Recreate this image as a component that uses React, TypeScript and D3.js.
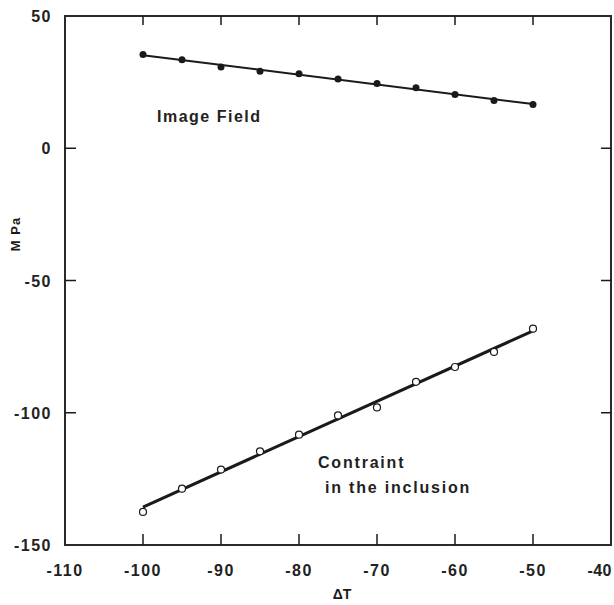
import React from "react";
import * as d3 from "d3";

const deltaT = [-100, -95, -90, -85, -80, -75, -70, -65, -60, -55, -50];
const imageField = [35.4, 33.5, 30.7, 29.1, 28.2, 26.2, 24.5, 22.9, 20.3, 18.1, 16.5];
const constraint = [-137.5, -128.7, -121.5, -114.6, -108.3, -101.0, -98.0, -88.3, -82.7, -77.0, -68.2];
const xTicks = [-110, -100, -90, -80, -70, -60, -50, -40];
const yTicks = [50, 0, -50, -100, -150];

const W = 614;
const H = 605;
const L = 65, R = 611, T = 16, B = 545;

function fit(xs: number[], ys: number[]) {
  const mx = d3.mean(xs)!;
  const my = d3.mean(ys)!;
  let num = 0, den = 0;
  xs.forEach((x, i) => { num += (x - mx) * (ys[i] - my); den += (x - mx) ** 2; });
  const b = num / den;
  return (x: number) => my + b * (x - mx);
}

export default function App() {
  const x = d3.scaleLinear().domain([-110, -40]).range([L, R]);
  const y = d3.scaleLinear().domain([-150, 50]).range([B, T]);
  const f1 = fit(deltaT, imageField);
  const f2 = fit(deltaT, constraint);
  const x0 = d3.min(deltaT)!, x1 = d3.max(deltaT)!;
  const line = d3.line<[number, number]>().x(d => x(d[0])).y(d => y(d[1]));
  const font = "'Liberation Sans', Arial, sans-serif";
  const ink = "#1a1a1a";
  const labelColor = "#222";

  return (
    <svg width={W} height={H} style={{ position: "absolute", left: 0, top: 0, background: "#fff" }}>
      <rect x={0} y={0} width={W} height={H} fill="#fff" />
      {/* frame */}
      <rect x={L} y={T} width={R - L} height={B - T} fill="none" stroke="#2a2a2a" strokeWidth={2} />
      {/* x ticks bottom & top */}
      {xTicks.slice(1, -1).map(t => (
        <g key={"xt" + t}>
          <line x1={x(t)} x2={x(t)} y1={B} y2={B - 11} stroke={ink} strokeWidth={1.5} />
          <line x1={x(t)} x2={x(t)} y1={T} y2={T + 9} stroke={ink} strokeWidth={1.5} />
        </g>
      ))}
      {yTicks.slice(1, -1).map(t => (
        <g key={"yt" + t}>
          <line x1={L} x2={L + 11} y1={y(t)} y2={y(t)} stroke={ink} strokeWidth={1.5} />
          <line x1={R} x2={R - 10} y1={y(t)} y2={y(t)} stroke={ink} strokeWidth={1.5} />
        </g>
      ))}
      {/* tick labels */}
      {xTicks.map((t, i) => {
        const last = i === xTicks.length - 1;
        return (
          <text key={"xl" + t} x={last ? W - 2 : x(t)} y={576} textAnchor={last ? "end" : "middle"}
            fontFamily={font} fontWeight="bold" fontSize={16} letterSpacing={last ? 0.5 : 1.5}
            fill={labelColor}>{t}</text>
        );
      })}
      {yTicks.map(t => (
        <text key={"yl" + t} x={52} y={y(t) + 6} textAnchor="end" fontFamily={font} fontWeight="bold"
          fontSize={16} letterSpacing={1.5} fill={labelColor}>{t}</text>
      ))}
      {/* axis titles */}
      <text x={342} y={599} textAnchor="middle" fontFamily={font} fontWeight="bold" fontSize={14} fill={ink}>ΔT</text>
      <text transform={`translate(20,234) rotate(-90)`} textAnchor="middle" fontFamily={font} fontWeight="bold"
        fontSize={13} letterSpacing={1} fill={ink}>M Pa</text>
      {/* fit lines */}
      <path d={line([[x0, f1(x0)], [x1, f1(x1)]])!} stroke={ink} strokeWidth={2} fill="none" />
      <path d={line([[x0, f2(x0)], [x1, f2(x1)]])!} stroke={ink} strokeWidth={3} fill="none" />
      {/* points */}
      {deltaT.map((t, i) => (
        <circle key={"a" + i} cx={x(t)} cy={y(imageField[i])} r={3.5} fill={ink} />
      ))}
      {deltaT.map((t, i) => (
        <circle key={"b" + i} cx={x(t)} cy={y(constraint[i])} r={3.5} fill="#fff" stroke={ink} strokeWidth={1.2} />
      ))}
      {/* annotations */}
      <text x={157} y={122} fontFamily={font} fontWeight="bold" fontSize={16} letterSpacing={1.5} fill={labelColor}>Image Field</text>
      <text x={318} y={468} fontFamily={font} fontWeight="bold" fontSize={16} letterSpacing={1.8} fill={labelColor}>Contraint</text>
      <text x={325} y={493} fontFamily={font} fontWeight="bold" fontSize={16} letterSpacing={1.8} fill={labelColor}>in the inclusion</text>
    </svg>
  );
}
